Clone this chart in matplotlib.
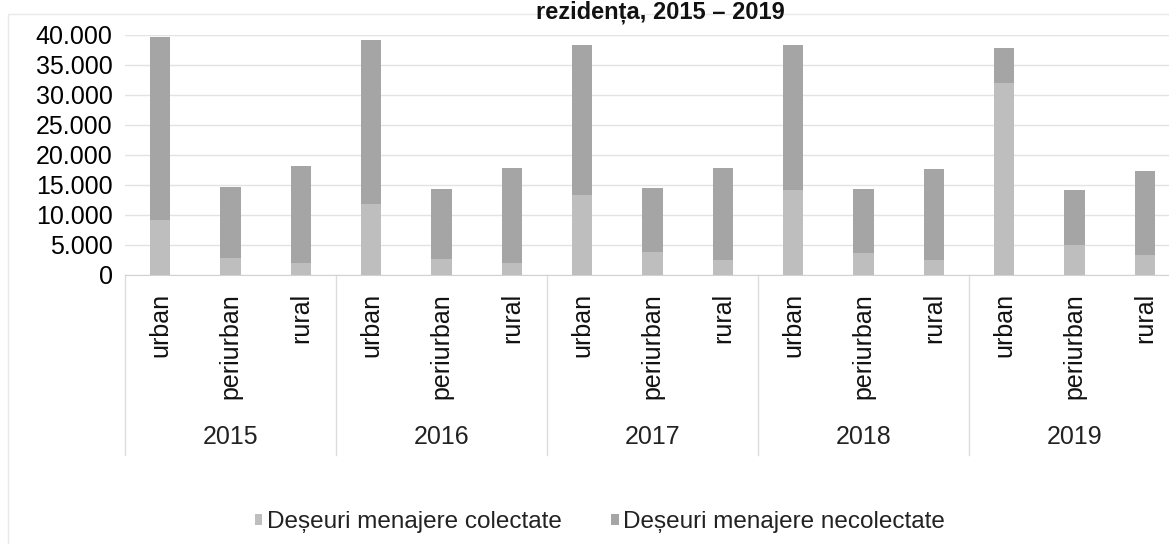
import numpy as np
import matplotlib.pyplot as plt
from matplotlib.transforms import blended_transform_factory
from matplotlib.patches import Rectangle

plt.rcParams['font.family'] = ['Liberation Sans', 'DejaVu Sans']

# data (order: urban, periurban, rural for each year)
years = ['2015', '2016', '2017', '2018', '2019']
zones = ['urban', 'periurban', 'rural']
colectate = [9200, 2800, 2000,
             11900, 2700, 2000,
             13300, 3800, 2500,
             14200, 3600, 2500,
             32000, 5000, 3300]
necolectate = [30400, 11900, 16200,
               27200, 11700, 15900,
               25100, 10700, 15400,
               24100, 10700, 15100,
               5900, 9200, 14000]
series_names = ['Deșeuri menajere colectate', 'Deșeuri menajere necolectate']
title = 'rezidența, 2015 – 2019'

W, H = 1169, 544
fig = plt.figure(figsize=(W / 100, H / 100), dpi=100)
# plot area runs past the right edge, as in the cropped scan
ax = fig.add_axes([125 / W, 1 - 275 / H, 1055 / W, 240 / H])

x = np.arange(len(colectate))
c_light = '#bebebe'
c_dark = '#a5a5a5'
b1 = ax.bar(x, colectate, width=0.29, color=c_light, zorder=3)
b2 = ax.bar(x, necolectate, width=0.29, bottom=colectate, color=c_dark, zorder=3)

ax.set_xlim(-0.5, len(x) - 0.5)
ax.set_ylim(0, 40000)
ax.set_yticks(np.arange(0, 40001, 5000))
ax.set_yticklabels([f'{v:,}'.replace(',', '.') for v in range(0, 40001, 5000)],
                   fontsize=18, color='#000000')
ax.tick_params(axis='y', length=0, pad=9)
ax.grid(axis='y', color='#e3e3e3', linewidth=1, zorder=0)
for s in ['top', 'right', 'left']:
    ax.spines[s].set_visible(False)
ax.spines['bottom'].set_color('#d2d2d2')

ax.set_xticks(x)
ax.set_xticklabels(zones * len(years), rotation=90, va='top', fontsize=18,
                   color='#111111')
ax.tick_params(axis='x', length=0, pad=13)

# year row and group separators
tr = blended_transform_factory(ax.transData, ax.transAxes)
for i, yr in enumerate(years):
    ax.text(i * 3 + 1, -0.675, yr, transform=tr, ha='center', va='center',
            fontsize=18, color='#222222')
for i in range(len(years) + 1):
    ax.plot([i * 3 - 0.5] * 2, [0, -0.75], transform=tr, color='#dcdcdc',
            linewidth=1, clip_on=False)

# title (only its last line survives in the scan)
fig.text(660 / W, 1 - 1 / H, title, ha='center', va='top',
         fontsize=17, fontweight='bold', color='#111111')

# faint chart border
fig.patches.append(Rectangle((8 / W, -0.1), 1.2, 1 - 14 / H + 0.1,
                             transform=fig.transFigure, fill=False,
                             edgecolor='#e8e8e8', linewidth=1))

leg = fig.legend([b1, b2], series_names, loc='center', ncol=2,
                 bbox_to_anchor=(600 / W, 1 - 522 / H), frameon=False,
                 fontsize=17.5, handlelength=0.32, handleheight=0.32,
                 handletextpad=0.2, columnspacing=2.0)
for t in leg.get_texts():
    t.set_color('#222222')

fig.savefig('out.png', dpi=100)
